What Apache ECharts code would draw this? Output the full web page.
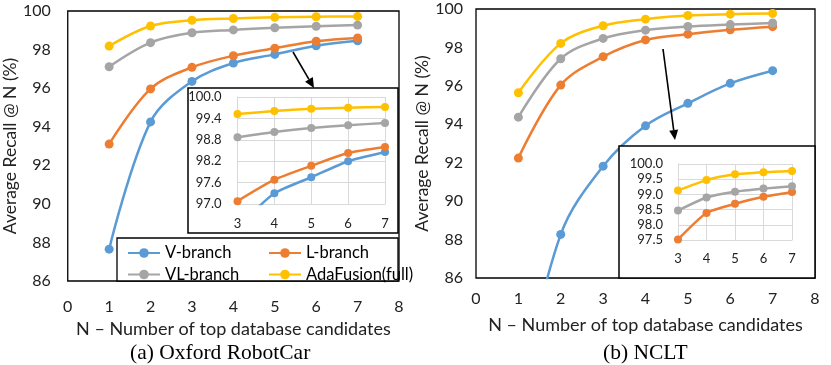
<!DOCTYPE html>
<html>
<head>
<meta charset="utf-8">
<script src="https://cdn.jsdelivr.net/npm/echarts@6/dist/echarts.min.js"></script>
<style>
html, body { margin: 0; padding: 0; background: #fff; }
#chart { width: 831px; height: 365px; }
</style>
</head>
<body>
<div id="chart"></div>
<script>
// N - number of top database candidates
var nValues = [1, 2, 3, 4, 5, 6, 7];
var seriesNames = ['V-branch', 'L-branch', 'VL-branch', 'AdaFusion(full)'];
var seriesColors = ['#5B9BD5', '#ED7D31', '#A5A5A5', '#FFC000'];

// (a) Oxford RobotCar, average recall @ N (%)
var oxfordV = [87.65, 94.25, 96.35, 97.3, 97.75, 98.2, 98.46];
var oxfordL = [93.1, 95.96, 97.08, 97.68, 98.07, 98.43, 98.6];
var oxfordVL = [97.11, 98.36, 98.87, 99.02, 99.13, 99.21, 99.27];
var oxfordAda = [98.18, 99.22, 99.52, 99.61, 99.67, 99.7, 99.72];

// (b) NCLT (first V-branch point is below the axis range)
var ncltV = [79.5, 88.27, 91.82, 93.92, 95.09, 96.13, 96.79];
var ncltL = [92.24, 96.04, 97.52, 98.39, 98.69, 98.92, 99.08];
var ncltVL = [94.37, 97.41, 98.47, 98.9, 99.09, 99.19, 99.27];
var ncltAda = [95.64, 98.21, 99.13, 99.47, 99.66, 99.73, 99.77];

// axis ranges
var mainY = { min: 86, max: 100, interval: 2 };
var oxfordInsetY = { min: 97.0, max: 100.0, interval: 0.6 };
var ncltInsetY = { min: 97.5, max: 100.0, interval: 0.5 };
var insetN = { min: 3, max: 7 };

var font = 'Lato';
var xName = 'N \u2013 Number of top database candidates';
var yName = 'Average Recall @ N (%)';

function pts(arr, from) {
    return nValues.slice(from).map(function (n, i) { return [n, arr[from + i]]; });
}

function mkSeries(name, idx, arr, gridIdx, from, inset) {
    return {
        name: name,
        type: 'line',
        xAxisIndex: gridIdx,
        yAxisIndex: gridIdx,
        data: pts(arr, from),
        smooth: inset ? 0.2 : 0.35,
        symbol: 'circle',
        symbolSize: inset ? 8 : 9,
        clip: true,
        z: inset ? 8 : 2,
        lineStyle: { color: seriesColors[idx], width: 2.5 },
        itemStyle: { color: seriesColors[idx] },
        animation: false
    };
}

function mainX(gap, margin) {
    return {
        type: 'value', min: 0, max: 8, interval: 1,
        axisLine: { show: false }, axisTick: { show: false }, splitLine: { show: false },
        axisLabel: { fontFamily: font, fontSize: 16, color: '#222', margin: margin },
        name: xName, nameLocation: 'middle', nameGap: gap,
        nameTextStyle: { fontFamily: font, fontSize: 18, color: '#222' }
    };
}
function mainYAxis(gap, margin) {
    return {
        type: 'value', min: mainY.min, max: mainY.max, interval: mainY.interval,
        axisLine: { show: false }, axisTick: { show: false }, splitLine: { show: false },
        axisLabel: { fontFamily: font, fontSize: 16, color: '#222', margin: margin },
        name: yName, nameLocation: 'middle', nameGap: gap, nameRotate: 90,
        nameTextStyle: { fontFamily: font, fontSize: 17.5, color: '#222' }
    };
}
function insetX(margin) {
    return {
        type: 'value', min: insetN.min, max: insetN.max, interval: 1, z: 7,
        axisLine: { show: true, lineStyle: { color: '#d9d9d9', width: 1 } },
        axisTick: { show: false },
        splitLine: { show: true, lineStyle: { color: '#d9d9d9', width: 1 } },
        axisLabel: { fontFamily: font, fontSize: 13, color: '#222', margin: margin }
    };
}
function insetY(r, margin) {
    return {
        type: 'value', min: r.min, max: r.max, interval: r.interval, z: 7,
        axisLine: { show: true, lineStyle: { color: '#d9d9d9', width: 1 } },
        axisTick: { show: false },
        splitLine: { show: true, lineStyle: { color: '#d9d9d9', width: 1 } },
        axisLabel: { fontFamily: font, fontSize: 13, color: '#222', margin: margin,
            formatter: function (v) { return v.toFixed(1); } }
    };
}

function arrow(x1, y1, x2, y2) {
    var a = Math.atan2(y2 - y1, x2 - x1), len = 10, w = 4.5;
    var bx = x2 - len * Math.cos(a), by = y2 - len * Math.sin(a);
    return [
        { type: 'line', z: 9, shape: { x1: x1, y1: y1, x2: bx, y2: by },
          style: { stroke: '#000', lineWidth: 1.6 } },
        { type: 'polygon', z: 9, shape: { points: [[x2, y2],
            [bx + w * Math.sin(a), by - w * Math.cos(a)],
            [bx - w * Math.sin(a), by + w * Math.cos(a)]] },
          style: { fill: '#000' } }
    ];
}

var oxfordSets = [oxfordV, oxfordL, oxfordVL, oxfordAda];
var ncltSets = [ncltV, ncltL, ncltVL, ncltAda];
var series = [];
seriesNames.forEach(function (name, i) {
    series.push(mkSeries(name, i, oxfordSets[i], 0, 0, false));
    series.push(mkSeries(name, i, oxfordSets[i], 1, 2, true));
    series.push(mkSeries(name, i, ncltSets[i], 2, 0, false));
    if (i > 0) series.push(mkSeries(name, i, ncltSets[i], 3, 2, true));
});

var graphics = [
    // inset boxes
    { type: 'rect', z: 5, shape: { x: 188, y: 88, width: 210, height: 145 },
      style: { fill: '#fff', stroke: '#000', lineWidth: 1.5 } },
    { type: 'rect', z: 5, shape: { x: 619, y: 146, width: 196, height: 132 },
      style: { fill: '#fff', stroke: '#000', lineWidth: 1.5 } },
    // legend box
    { type: 'rect', z: 5, shape: { x: 117, y: 238, width: 281, height: 43 },
      style: { fill: '#fff', stroke: '#000', lineWidth: 1.3 } },
    // captions
    { type: 'text', z: 9, x: 130, y: 353, style: { text: '(a) Oxford RobotCar', font: '21.5px "Liberation Serif"',
      fill: '#000', textAlign: 'left', textVerticalAlign: 'middle' } },
    { type: 'text', z: 9, x: 603, y: 353, style: { text: '(b) NCLT', font: '21.5px "Liberation Serif"',
      fill: '#000', textAlign: 'left', textVerticalAlign: 'middle' } }
].concat(arrow(293, 52, 314, 88)).concat(arrow(663, 49, 675, 140));

var chart = echarts.init(document.getElementById('chart'));
chart.setOption({
    animation: false,
    backgroundColor: '#fff',
    grid: [
        { left: 67, top: 11, width: 332, height: 270, show: true, borderColor: '#000', borderWidth: 1.3, backgroundColor: '#fff' },
        { left: 237.5, top: 97, width: 147.5, height: 107, show: false },
        { left: 476, top: 9, width: 339, height: 269, show: true, borderColor: '#000', borderWidth: 1.3, backgroundColor: '#fff' },
        { left: 678, top: 164, width: 114, height: 76, show: false }
    ],
    xAxis: [
        Object.assign(mainX(36, 18), { gridIndex: 0 }),
        Object.assign(insetX(13), { gridIndex: 1 }),
        Object.assign(mainX(38, 13), { gridIndex: 2 }),
        Object.assign(insetX(12), { gridIndex: 3 })
    ],
    yAxis: [
        Object.assign(mainYAxis(45, 17), { gridIndex: 0 }),
        Object.assign(insetY(oxfordInsetY, 16), { gridIndex: 1 }),
        Object.assign(mainYAxis(39, 13), { gridIndex: 2 }),
        Object.assign(insetY(ncltInsetY, 15), { gridIndex: 3 })
    ],
    legend: [
        { data: ['V-branch', 'VL-branch'], orient: 'vertical', left: 122, top: 239.5, z: 7,
          itemWidth: 32, itemHeight: 12, itemGap: 4.5, selectedMode: false,
          textStyle: { fontFamily: font, fontSize: 16.5, color: '#000' } },
        { data: ['L-branch', 'AdaFusion(full)'], orient: 'vertical', left: 263, top: 239.5, z: 7,
          itemWidth: 32, itemHeight: 12, itemGap: 4.5, selectedMode: false,
          textStyle: { fontFamily: font, fontSize: 16.5, color: '#000' } }
    ],
    graphic: graphics,
    series: series
});
</script>
</body>
</html>
